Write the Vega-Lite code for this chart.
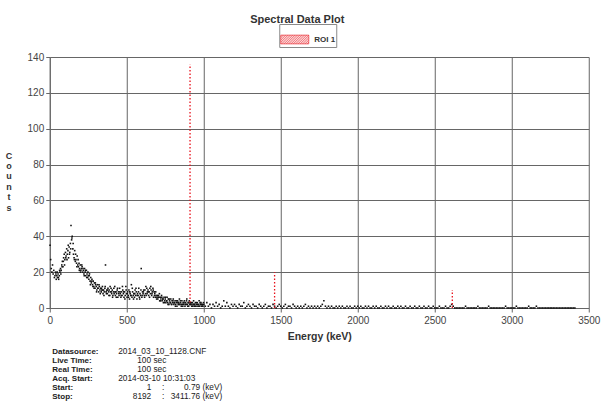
{
  "$schema": "https://vega.github.io/schema/vega-lite/v6.json",
  "background": "white",
  "padding": {"left": 4.75, "top": 14, "right": 2, "bottom": 2},
  "autosize": {"type": "pad"},
  "bounds": "flush",
  "spacing": 39,
  "config": {"font": "Liberation Sans", "view": {"stroke": null}},
  "vconcat": [
    {
      "width": 539,
      "height": 251,
      "title": {"text": "Spectral Data Plot", "fontSize": 11, "fontWeight": "bold", "color": "#333", "anchor": "middle", "frame": "group", "dx": -22, "offset": 27},
      "encoding": {
        "x": {"field": "e", "type": "quantitative",
          "scale": {"domain": [0, 3500], "nice": false, "zero": false},
          "axis": {"values": [0, 500, 1000, 1500, 2000, 2500, 3000, 3500], "format": "d", "grid": true, "gridColor": "#666", "gridWidth": 1, "gridOpacity": 1, "domainColor": "#666", "tickColor": "#666", "tickSize": 4, "labelFontSize": 10, "labelColor": "#444", "labelPadding": 3, "labelFlush": false, "labelOverlap": false, "title": "Energy (keV)", "titleFontSize": 10.5, "titleFontWeight": "bold", "titleColor": "#333", "titlePadding": 6}},
        "y": {"field": "c", "type": "quantitative",
          "scale": {"domain": [0, 140], "nice": false},
          "axis": {"values": [0, 20, 40, 60, 80, 100, 120, 140], "format": "d", "grid": true, "gridColor": "#666", "gridWidth": 1, "gridOpacity": 1, "domainColor": "#666", "tickColor": "#666", "tickSize": 4, "labelFontSize": 10, "labelColor": "#444", "labelPadding": 2, "labelFlush": false, "labelOverlap": false,
            "title": ["C", "o", "u", "n", "t", "s"], "titleAngle": 0, "titleFontSize": 9, "titleFontWeight": "bold", "titleColor": "#333", "titleLineHeight": 10.4, "titleAlign": "center", "titleBaseline": "top", "titleX": -41.25, "titleY": 94}}
      },
      "layer": [
        {
          "data": {"values": [
            {"e":2,"c":35},{"e":6,"c":27},{"e":10,"c":22},{"e":14,"c":20},{"e":18,"c":24},{"e":22,"c":19},{"e":26,"c":21},{"e":30,"c":17},{"e":34,"c":18},{"e":38,"c":20},{"e":42,"c":16},{"e":46,"c":18},{"e":50,"c":17},{"e":54,"c":19},{"e":58,"c":16},{"e":62,"c":18},{"e":66,"c":20},{"e":70,"c":22},{"e":74,"c":21},{"e":78,"c":24},{"e":82,"c":26},{"e":86,"c":23},{"e":90,"c":28},{"e":94,"c":30},{"e":98,"c":27},{"e":102,"c":31},{"e":106,"c":29},{"e":110,"c":33},{"e":114,"c":30},{"e":118,"c":32},{"e":122,"c":28},{"e":126,"c":34},{"e":130,"c":31},{"e":134,"c":36},{"e":138,"c":46},{"e":142,"c":38},{"e":146,"c":40},{"e":150,"c":33},{"e":154,"c":30},{"e":158,"c":28},{"e":162,"c":32},{"e":166,"c":26},{"e":170,"c":27},{"e":174,"c":25},{"e":178,"c":29},{"e":182,"c":24},{"e":186,"c":23},{"e":190,"c":25},{"e":194,"c":22},{"e":198,"c":24},
            {"e":202,"c":21},{"e":206,"c":22},{"e":210,"c":23},{"e":214,"c":20},{"e":218,"c":21},{"e":222,"c":19},{"e":226,"c":22},{"e":230,"c":20},{"e":234,"c":18},{"e":238,"c":21},{"e":242,"c":19},{"e":246,"c":17},{"e":250,"c":18},{"e":254,"c":16},{"e":258,"c":19},{"e":262,"c":15},{"e":266,"c":17},{"e":270,"c":14},{"e":274,"c":16},{"e":278,"c":13},{"e":282,"c":15},{"e":286,"c":12},{"e":290,"c":14},{"e":294,"c":11},{"e":298,"c":13},{"e":302,"c":12},{"e":306,"c":10},{"e":310,"c":13},{"e":314,"c":11},{"e":318,"c":9},{"e":322,"c":12},{"e":326,"c":10},{"e":330,"c":11},{"e":334,"c":9},{"e":338,"c":10},{"e":342,"c":12},{"e":346,"c":8},{"e":350,"c":10},{"e":354,"c":9},{"e":358,"c":11},{"e":362,"c":24},{"e":366,"c":9},{"e":370,"c":10},{"e":374,"c":8},{"e":378,"c":11},{"e":382,"c":9},{"e":386,"c":10},{"e":390,"c":7},{"e":394,"c":9},{"e":398,"c":11},
            {"e":402,"c":8},{"e":406,"c":10},{"e":410,"c":7},{"e":414,"c":9},{"e":418,"c":8},{"e":422,"c":12},{"e":426,"c":7},{"e":430,"c":9},{"e":434,"c":8},{"e":438,"c":10},{"e":442,"c":6},{"e":446,"c":9},{"e":450,"c":7},{"e":454,"c":11},{"e":458,"c":8},{"e":462,"c":6},{"e":466,"c":9},{"e":470,"c":7},{"e":474,"c":10},{"e":478,"c":8},{"e":482,"c":6},{"e":486,"c":9},{"e":490,"c":7},{"e":494,"c":12},{"e":498,"c":8},{"e":502,"c":6},{"e":506,"c":9},{"e":510,"c":7},{"e":514,"c":10},{"e":518,"c":5},{"e":522,"c":8},{"e":526,"c":7},{"e":530,"c":13},{"e":534,"c":6},{"e":538,"c":9},{"e":542,"c":7},{"e":546,"c":8},{"e":550,"c":6},{"e":554,"c":10},{"e":558,"c":7},{"e":562,"c":9},{"e":566,"c":5},{"e":570,"c":8},{"e":574,"c":7},{"e":578,"c":11},{"e":582,"c":6},{"e":586,"c":8},{"e":590,"c":7},{"e":594,"c":22},{"e":598,"c":6},
            {"e":602,"c":9},{"e":606,"c":8},{"e":610,"c":10},{"e":614,"c":7},{"e":618,"c":10},{"e":622,"c":8},{"e":626,"c":7},{"e":630,"c":11},{"e":634,"c":9},{"e":638,"c":10},{"e":642,"c":7},{"e":646,"c":9},{"e":650,"c":11},{"e":654,"c":8},{"e":658,"c":10},{"e":662,"c":7},{"e":666,"c":9},{"e":670,"c":11},{"e":674,"c":6},{"e":678,"c":9},{"e":682,"c":8},{"e":686,"c":6},{"e":690,"c":7},{"e":694,"c":5},{"e":698,"c":7},{"e":702,"c":5},{"e":706,"c":7},{"e":710,"c":6},{"e":714,"c":4},{"e":718,"c":6},{"e":722,"c":5},{"e":726,"c":7},{"e":730,"c":4},{"e":734,"c":5},{"e":738,"c":3},{"e":742,"c":6},{"e":746,"c":4},{"e":750,"c":5},{"e":754,"c":3},{"e":758,"c":4},{"e":762,"c":6},{"e":766,"c":3},{"e":770,"c":5},{"e":774,"c":2},{"e":778,"c":4},{"e":782,"c":3},{"e":786,"c":5},{"e":790,"c":2},{"e":794,"c":4},{"e":798,"c":3},
            {"e":802,"c":5},{"e":806,"c":2},{"e":810,"c":3},{"e":814,"c":4},{"e":818,"c":2},{"e":822,"c":3},{"e":826,"c":1},{"e":830,"c":4},{"e":834,"c":2},{"e":838,"c":3},{"e":842,"c":5},{"e":846,"c":2},{"e":850,"c":3},{"e":854,"c":1},{"e":858,"c":4},{"e":862,"c":2},{"e":866,"c":3},{"e":870,"c":2},{"e":874,"c":4},{"e":878,"c":1},{"e":882,"c":3},{"e":886,"c":2},{"e":890,"c":5},{"e":894,"c":2},{"e":898,"c":3},{"e":902,"c":1},{"e":906,"c":4},{"e":910,"c":2},{"e":914,"c":3},{"e":918,"c":2},{"e":922,"c":1},{"e":926,"c":3},{"e":930,"c":2},{"e":934,"c":4},{"e":938,"c":1},{"e":942,"c":2},{"e":946,"c":3},{"e":950,"c":1},{"e":954,"c":2},{"e":958,"c":3},{"e":962,"c":1},{"e":966,"c":2},{"e":970,"c":4},{"e":974,"c":1},{"e":978,"c":2},{"e":982,"c":3},{"e":986,"c":1},{"e":990,"c":2},{"e":994,"c":1},{"e":998,"c":3},
            {"e":40,"c":19},{"e":48,"c":20},{"e":56,"c":17},{"e":64,"c":21},{"e":72,"c":19},{"e":80,"c":23},{"e":88,"c":26},{"e":96,"c":24},{"e":104,"c":28},{"e":112,"c":27},{"e":120,"c":35},{"e":128,"c":30},{"e":136,"c":33},{"e":144,"c":39},{"e":152,"c":36},{"e":160,"c":27},{"e":168,"c":30},{"e":176,"c":23},{"e":184,"c":27},{"e":192,"c":21},
            {"e":200,"c":20},{"e":208,"c":24},{"e":216,"c":22},{"e":224,"c":18},{"e":232,"c":21},{"e":240,"c":17},{"e":248,"c":20},{"e":256,"c":18},{"e":264,"c":13},{"e":272,"c":15},{"e":280,"c":12},{"e":288,"c":11},{"e":296,"c":14},{"e":304,"c":9},{"e":312,"c":11},{"e":320,"c":13},{"e":328,"c":8},{"e":336,"c":11},{"e":344,"c":10},{"e":352,"c":7},{"e":360,"c":12},{"e":368,"c":8},{"e":376,"c":10},{"e":384,"c":7},{"e":392,"c":12},{"e":400,"c":9},{"e":408,"c":6},{"e":416,"c":11},{"e":424,"c":9},{"e":432,"c":6},{"e":440,"c":11},{"e":448,"c":8},{"e":456,"c":9},{"e":464,"c":7},{"e":472,"c":12},{"e":480,"c":9},{"e":488,"c":5},{"e":496,"c":10},{"e":504,"c":8},{"e":512,"c":6},{"e":520,"c":9},{"e":528,"c":7},{"e":536,"c":11},{"e":544,"c":5},{"e":552,"c":8},{"e":560,"c":11},{"e":568,"c":7},{"e":576,"c":9},{"e":584,"c":5},{"e":592,"c":10},
            {"e":600,"c":7},{"e":608,"c":9},{"e":616,"c":6},{"e":624,"c":12},{"e":632,"c":8},{"e":640,"c":9},{"e":648,"c":6},{"e":656,"c":12},{"e":664,"c":8},{"e":672,"c":10},{"e":680,"c":7},{"e":688,"c":9},{"e":696,"c":6},{"e":704,"c":6},{"e":712,"c":8},{"e":720,"c":4},{"e":728,"c":6},{"e":736,"c":5},{"e":744,"c":3},{"e":752,"c":6},{"e":760,"c":4},{"e":768,"c":2},{"e":776,"c":5},{"e":784,"c":3},{"e":792,"c":2},{"e":800,"c":4},{"e":808,"c":3},{"e":816,"c":1},{"e":824,"c":4},{"e":832,"c":3},{"e":840,"c":2},{"e":848,"c":4},{"e":856,"c":2},{"e":864,"c":1},{"e":872,"c":3},{"e":880,"c":2},{"e":888,"c":4},{"e":896,"c":1},{"e":904,"c":3},{"e":912,"c":2},{"e":920,"c":3},{"e":928,"c":1},{"e":936,"c":2},{"e":944,"c":1},{"e":952,"c":3},{"e":960,"c":2},{"e":968,"c":1},{"e":976,"c":3},{"e":984,"c":2},{"e":992,"c":1},
            {"e":1000,"c":2},{"e":1010,"c":1},{"e":1020,"c":3},{"e":1030,"c":1},{"e":1040,"c":2},{"e":1050,"c":0},{"e":1060,"c":2},{"e":1070,"c":1},{"e":1080,"c":3},{"e":1090,"c":1},{"e":1100,"c":2},{"e":1110,"c":0},{"e":1120,"c":1},{"e":1130,"c":4},{"e":1140,"c":1},{"e":1150,"c":3},{"e":1160,"c":1},{"e":1170,"c":0},{"e":1180,"c":2},{"e":1190,"c":1},{"e":1200,"c":2},{"e":1210,"c":1},{"e":1220,"c":0},{"e":1230,"c":2},{"e":1240,"c":1},{"e":1250,"c":1},{"e":1260,"c":3},{"e":1270,"c":0},{"e":1280,"c":1},{"e":1290,"c":2},{"e":1300,"c":1},{"e":1310,"c":0},{"e":1320,"c":2},{"e":1330,"c":1},{"e":1340,"c":1},{"e":1350,"c":0},{"e":1360,"c":2},{"e":1370,"c":1},{"e":1380,"c":0},{"e":1390,"c":1},{"e":1400,"c":2},{"e":1410,"c":0},{"e":1420,"c":1},{"e":1430,"c":1},{"e":1440,"c":0},{"e":1450,"c":2},{"e":1460,"c":1},{"e":1470,"c":0},{"e":1480,"c":1},{"e":1490,"c":2},
            {"e":1500,"c":1},{"e":1510,"c":0},{"e":1520,"c":1},{"e":1530,"c":2},{"e":1540,"c":0},{"e":1550,"c":1},{"e":1560,"c":1},{"e":1570,"c":0},{"e":1580,"c":2},{"e":1590,"c":1},{"e":1600,"c":0},{"e":1610,"c":1},{"e":1620,"c":0},{"e":1630,"c":1},{"e":1640,"c":0},{"e":1650,"c":1},{"e":1660,"c":2},{"e":1670,"c":0},{"e":1680,"c":1},{"e":1690,"c":0},{"e":1700,"c":1},{"e":1710,"c":0},{"e":1720,"c":1},{"e":1730,"c":0},{"e":1740,"c":1},{"e":1750,"c":0},{"e":1760,"c":1},{"e":1770,"c":2},{"e":1780,"c":4},{"e":1790,"c":1},{"e":1800,"c":0},{"e":1810,"c":1},{"e":1820,"c":0},{"e":1830,"c":1},{"e":1840,"c":0},{"e":1850,"c":0},{"e":1860,"c":1},{"e":1870,"c":0},{"e":1880,"c":1},{"e":1890,"c":0},{"e":1900,"c":1},{"e":1910,"c":0},{"e":1920,"c":0},{"e":1930,"c":1},{"e":1940,"c":0},{"e":1950,"c":1},{"e":1960,"c":0},{"e":1970,"c":0},{"e":1980,"c":1},{"e":1990,"c":0},
            {"e":2000,"c":1},{"e":2010,"c":0},{"e":2020,"c":1},{"e":2030,"c":0},{"e":2040,"c":0},{"e":2050,"c":1},{"e":2060,"c":0},{"e":2070,"c":1},{"e":2080,"c":0},{"e":2090,"c":0},{"e":2100,"c":1},{"e":2110,"c":0},{"e":2120,"c":1},{"e":2130,"c":0},{"e":2140,"c":0},{"e":2150,"c":1},{"e":2160,"c":0},{"e":2170,"c":0},{"e":2180,"c":1},{"e":2190,"c":0},{"e":2200,"c":1},{"e":2210,"c":0},{"e":2220,"c":0},{"e":2230,"c":1},{"e":2240,"c":0},{"e":2250,"c":0},{"e":2260,"c":1},{"e":2270,"c":0},{"e":2280,"c":1},{"e":2290,"c":0},{"e":2300,"c":0},{"e":2310,"c":1},{"e":2320,"c":0},{"e":2330,"c":0},{"e":2340,"c":1},{"e":2350,"c":0},{"e":2360,"c":0},{"e":2370,"c":1},{"e":2380,"c":0},{"e":2390,"c":0},{"e":2400,"c":1},{"e":2410,"c":0},{"e":2420,"c":0},{"e":2430,"c":1},{"e":2440,"c":0},{"e":2450,"c":0},{"e":2460,"c":1},{"e":2470,"c":0},{"e":2480,"c":0},{"e":2490,"c":1},
            {"e":2500,"c":0},{"e":2510,"c":0},{"e":2520,"c":0},{"e":2530,"c":1},{"e":2540,"c":0},{"e":2550,"c":0},{"e":2560,"c":0},{"e":2570,"c":1},{"e":2580,"c":0},{"e":2590,"c":0},{"e":2600,"c":1},{"e":2610,"c":2},{"e":2620,"c":1},{"e":2630,"c":0},{"e":2640,"c":0},{"e":2650,"c":0},{"e":2660,"c":0},{"e":2670,"c":0},{"e":2680,"c":0},{"e":2690,"c":0},{"e":2700,"c":1},{"e":2710,"c":0},{"e":2720,"c":0},{"e":2730,"c":0},{"e":2740,"c":0},{"e":2750,"c":0},{"e":2760,"c":0},{"e":2770,"c":0},{"e":2780,"c":1},{"e":2790,"c":0},{"e":2800,"c":0},{"e":2810,"c":0},{"e":2820,"c":0},{"e":2830,"c":0},{"e":2840,"c":0},{"e":2850,"c":1},{"e":2860,"c":0},{"e":2870,"c":0},{"e":2880,"c":0},{"e":2890,"c":0},{"e":2900,"c":0},{"e":2910,"c":0},{"e":2920,"c":0},{"e":2930,"c":0},{"e":2940,"c":0},{"e":2950,"c":0},{"e":2960,"c":1},{"e":2970,"c":0},{"e":2980,"c":0},{"e":2990,"c":0},
            {"e":3000,"c":0},{"e":3010,"c":0},{"e":3020,"c":0},{"e":3030,"c":1},{"e":3040,"c":0},{"e":3050,"c":0},{"e":3060,"c":0},{"e":3070,"c":0},{"e":3080,"c":0},{"e":3090,"c":0},{"e":3100,"c":0},{"e":3110,"c":1},{"e":3120,"c":0},{"e":3130,"c":0},{"e":3140,"c":0},{"e":3150,"c":0},{"e":3160,"c":1},{"e":3170,"c":0},{"e":3180,"c":0},{"e":3190,"c":0},{"e":3200,"c":0},{"e":3210,"c":0},{"e":3220,"c":0},{"e":3230,"c":0},{"e":3240,"c":0},{"e":3250,"c":0},{"e":3260,"c":0},{"e":3270,"c":0},{"e":3280,"c":0},{"e":3290,"c":0},{"e":3300,"c":0},{"e":3310,"c":0},{"e":3320,"c":0},{"e":3330,"c":0},{"e":3340,"c":0},{"e":3350,"c":0},{"e":3360,"c":0},{"e":3370,"c":0},{"e":3380,"c":0},{"e":3390,"c":0},{"e":3400,"c":0},{"e":3410,"c":0}
          ]},
          "mark": {"type": "square", "size": 2.5, "color": "#111", "opacity": 1}
        },
        {
          "data": {"values": [
            {"e": 911, "c": 3, "c2": 136, "roi": "ROI 1"},
            {"e": 1460, "c": 0, "c2": 20, "roi": "ROI 1"},
            {"e": 2614, "c": 0, "c2": 10, "roi": "ROI 1"}
          ]},
          "mark": {"type": "rule", "strokeDash": [1.5, 2], "strokeWidth": 1.3},
          "encoding": {
            "y2": {"field": "c2"},
            "color": {"field": "roi", "type": "nominal", "scale": {"range": ["#e8101a"]},
              "legend": {"title": null, "orient": "none", "legendX": 229.5, "legendY": -33, "direction": "horizontal", "padding": 1, "strokeColor": "#8a8a8a", "fillColor": "white",
                "symbolType": "M-1,-0.3125H1V0.3125H-1Z M-1.0,0.3125L-0.375,-0.3125 M-0.875,0.3125L-0.25,-0.3125 M-0.75,0.3125L-0.125,-0.3125 M-0.625,0.3125L0,-0.3125 M-0.5,0.3125L0.125,-0.3125 M-0.375,0.3125L0.25,-0.3125 M-0.25,0.3125L0.375,-0.3125 M-0.125,0.3125L0.5,-0.3125 M0,0.3125L0.625,-0.3125 M0.125,0.3125L0.75,-0.3125 M0.25,0.3125L0.875,-0.3125 M0.375,0.3125L1,-0.3125 M-1,0.1875L-0.5,-0.3125 M-1,0.0625L-0.625,-0.3125 M-1,-0.0625L-0.75,-0.3125 M-1,-0.1875L-0.875,-0.3125 M0.5,0.3125L1,-0.1875 M0.625,0.3125L1,-0.0625 M0.75,0.3125L1,0.0625 M0.875,0.3125L1,0.1875",
                "symbolSize": 784, "labelFontSize": 8, "labelFontWeight": "bold", "labelColor": "#333", "labelOffset": 5,
                "encode": {"symbols": {"update": {"fill": {"value": "#ffffff"}, "stroke": {"value": "#e26a72"}, "strokeDash": {"value": []}, "strokeWidth": {"value": 0.6}, "opacity": {"value": 1}}}}}}
          }
        }
      ]
    },
    {
      "width": 200,
      "height": 54,
      "data": {"values": [
        {"line": 1, "col": "label", "t": "Datasource:"},
        {"line": 1, "col": "value", "t": "2014_03_10_1128.CNF"},
        {"line": 2, "col": "label", "t": "Live Time:"},
        {"line": 2, "col": "value2", "t": "100 sec"},
        {"line": 3, "col": "label", "t": "Real Time:"},
        {"line": 3, "col": "value2", "t": "100 sec"},
        {"line": 4, "col": "label", "t": "Acq. Start:"},
        {"line": 4, "col": "value", "t": "2014-03-10 10:31:03"},
        {"line": 5, "col": "label", "t": "Start:"},
        {"line": 5, "col": "chan", "t": "1"},
        {"line": 5, "col": "sep", "t": ":"},
        {"line": 5, "col": "energy", "t": "0.79 (keV)"},
        {"line": 6, "col": "label", "t": "Stop:"},
        {"line": 6, "col": "chan", "t": "8192"},
        {"line": 6, "col": "sep", "t": ":"},
        {"line": 6, "col": "energy", "t": "3411.76 (keV)"}
      ]},
      "encoding": {"y": {"field": "line", "type": "ordinal", "scale": {"type": "point", "padding": 0.5}, "axis": null}},
      "layer": [
        {"transform": [{"filter": {"field": "col", "equal": "label"}}],
         "mark": {"type": "text", "align": "left", "baseline": "middle", "dx": -97.5, "fontSize": 8, "fontWeight": "bold", "color": "#222"},
         "encoding": {"text": {"field": "t"}}},
        {"transform": [{"filter": {"field": "col", "equal": "value"}}],
         "mark": {"type": "text", "align": "left", "baseline": "middle", "dx": -31.5, "fontSize": 8.3, "color": "#222"},
         "encoding": {"text": {"field": "t"}}},
        {"transform": [{"filter": {"field": "col", "equal": "value2"}}],
         "mark": {"type": "text", "align": "left", "baseline": "middle", "dx": -12.5, "fontSize": 8.3, "color": "#222"},
         "encoding": {"text": {"field": "t"}}},
        {"transform": [{"filter": {"field": "col", "equal": "chan"}}],
         "mark": {"type": "text", "align": "right", "baseline": "middle", "dx": 1.5, "fontSize": 8.3, "color": "#222"},
         "encoding": {"text": {"field": "t"}}},
        {"transform": [{"filter": {"field": "col", "equal": "sep"}}],
         "mark": {"type": "text", "align": "center", "baseline": "middle", "dx": 13.5, "fontSize": 8.3, "color": "#222"},
         "encoding": {"text": {"field": "t"}}},
        {"transform": [{"filter": {"field": "col", "equal": "energy"}}],
         "mark": {"type": "text", "align": "right", "baseline": "middle", "dx": 72.5, "fontSize": 8.3, "color": "#222"},
         "encoding": {"text": {"field": "t"}}}
      ]
    }
  ]
}
